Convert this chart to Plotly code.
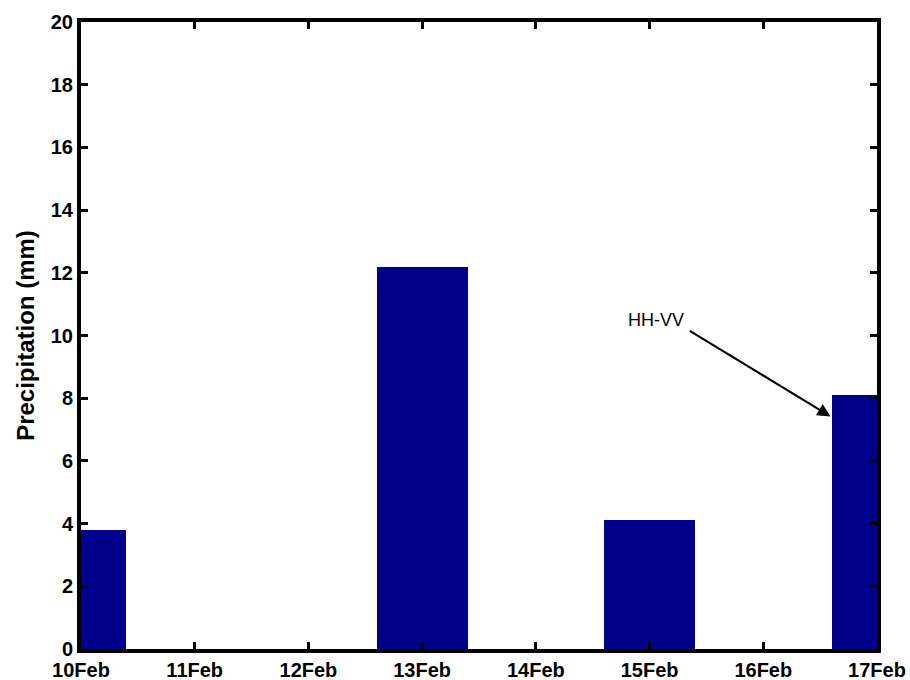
import plotly.graph_objects as go

# Daily precipitation totals
dates = ["2008-02-10", "2008-02-13", "2008-02-15", "2008-02-17"]
precip_mm = [3.8, 12.2, 4.1, 8.1]

x_range = ["2008-02-10", "2008-02-17"]
y_ticks = [0, 2, 4, 6, 8, 10, 12, 14, 16, 18, 20]

DAY_MS = 86400000
BAR_COLOR = "#00008b"
FONT = "Liberation Sans, Arial, sans-serif"

fig = go.Figure()
fig.add_trace(go.Bar(
    x=dates,
    y=precip_mm,
    width=[0.8 * DAY_MS] * len(dates),
    marker=dict(color=BAR_COLOR, line=dict(width=0)),
    hoverinfo="x+y",
))

axis_common = dict(
    showline=True, linecolor="black", linewidth=4,
    mirror="ticks", ticks="inside", ticklen=7, tickwidth=3, tickcolor="black",
    showgrid=False, zeroline=False, automargin=False,
    tickfont=dict(family=FONT, size=20, color="black", weight="bold"),
)

fig.update_xaxes(
    type="date", range=x_range, dtick=DAY_MS, tickformat="%d%b",
    tick0="2008-02-10", **axis_common,
)
fig.update_yaxes(
    range=[0, 20], tickvals=y_ticks,
    title=dict(text="Precipitation (mm)", standoff=10,
               font=dict(family=FONT, size=24, color="black", weight="bold")),
    **axis_common,
)

# Label and pointer for the polarimetric feature
fig.add_annotation(
    x="2008-02-15 01:20", y=10.5, xref="x", yref="y",
    text="HH-VV", showarrow=False,
    font=dict(family=FONT, size=18, color="black"),
)
fig.add_annotation(
    x="2008-02-16 14:10", y=7.42, xref="x", yref="y",
    ax="2008-02-15 08:10", ay=10.18, axref="x", ayref="y",
    text="", showarrow=True, arrowhead=2, arrowsize=1.3, arrowwidth=2,
    arrowcolor="black", standoff=0,
)

fig.update_layout(
    width=910, height=680,
    margin=dict(l=81, r=33, t=22, b=31),
    plot_bgcolor="white", paper_bgcolor="white",
    showlegend=False, bargap=0,
)

fig.write_html("out.html")
